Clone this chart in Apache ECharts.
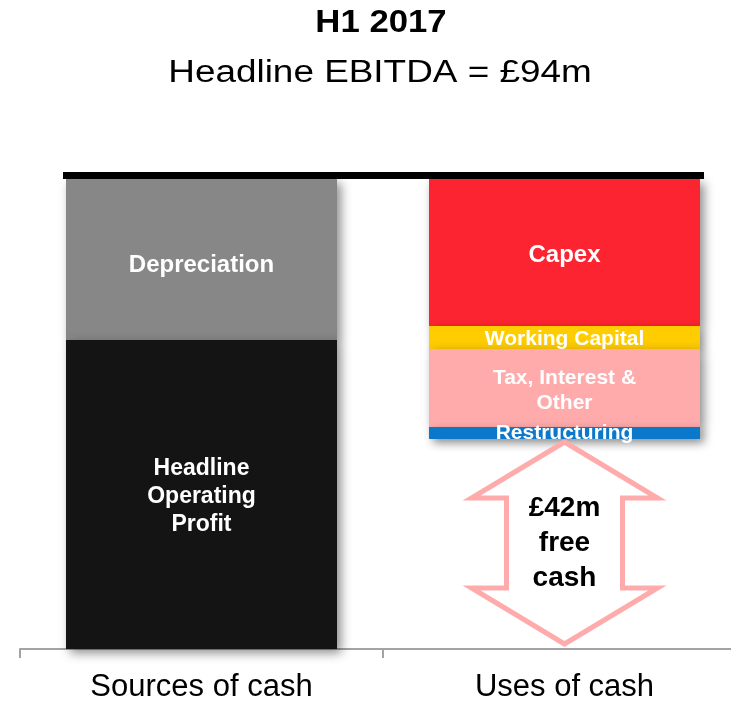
<!DOCTYPE html>
<html>
<head>
<meta charset="utf-8">
<title>H1 2017 cash</title>
<script src="https://cdn.jsdelivr.net/npm/echarts@6/dist/echarts.min.js"></script>
<style>
  html, body { margin: 0; padding: 0; background: #fff; }
  #main { width: 731px; height: 702px; }
</style>
</head>
<body>
<div id="main"></div>
<script>
// data, £m (scale set by EBITDA = 94)
var categories = ["Sources of cash", "Uses of cash"];
var ebitda = 94;
var sourceNames = ["Depreciation", "Headline Operating Profit"];
var sourceLabels = ["Depreciation", "Headline\nOperating\nProfit"];
var sourceValues = [32.2, 61.8];
var useNames = ["Capex", "Working Capital", "Tax, Interest & Other", "Restructuring"];
var useLabels = ["Capex", "Working Capital", "Tax, Interest &\nOther", "Restructuring"];
var useValues = [29.4, 4.6, 15.6, 2.4];
var freeCash = 42;
var freeCashLabel = "£42m\nfree\ncash";
var titleLines = ["H1 2017", "Headline EBITDA = £94m"];

var font = "Liberation Sans, Arial, sans-serif";
var sourceColors = ["#878787", "#141414"];
var useColors = ["#fb2430", "#ffcc00", "#ffabab", "#0b78cb"];
var sourceLabelSize = [24, 23];
var useLabelSize = [24, 21, 21, 21];
var sourceLabelOffset = [[0, 6], [0, 2]];
var useLabelOffset = [[0, 3], [0, 2], [0, 3], [0, 0]];
var BAR_W = 271;

var myChart = echarts.init(document.getElementById("main"));

function barSeries(name, value, catIndex, color, text, size, offset) {
  var data = categories.map(function (c, i) { return i === catIndex ? value : "-"; });
  return {
    name: name,
    type: "bar",
    stack: "cash",
    barWidth: BAR_W,
    data: data,
    itemStyle: {
      color: color,
      shadowBlur: 10,
      shadowOffsetX: 4,
      shadowOffsetY: 4,
      shadowColor: "rgba(0,0,0,0.45)"
    },
    label: {
      show: true,
      position: "inside",
      formatter: text,
      color: "#fff",
      fontWeight: "bold",
      fontSize: size,
      fontFamily: font,
      lineHeight: Math.round(size * 1.2),
      textBorderWidth: 0,
      offset: offset
    }
  };
}

var series = [];
// y axis is inverted, so the first series in the stack sits at the top
sourceNames.forEach(function (n, i) {
  series.push(barSeries(n, sourceValues[i], 0, sourceColors[i], sourceLabels[i], sourceLabelSize[i], sourceLabelOffset[i]));
});
useNames.forEach(function (n, i) {
  series.push(barSeries(n, useValues[i], 1, useColors[i], useLabels[i], useLabelSize[i], useLabelOffset[i]));
});

// black EBITDA line across the top of both bars
series.push({
  type: "custom",
  silent: true,
  z: 5,
  data: [[0, 0]],
  renderItem: function (params, api) {
    var a = api.coord([0, 0]);
    var b = api.coord([1, 0]);
    var half = BAR_W / 2;
    return {
      type: "rect",
      shape: { x: a[0] - half - 3, y: a[1] - 7, width: b[0] - a[0] + 2 * half + 7, height: 7 },
      style: { fill: "#000" }
    };
  }
});

// double arrow for free cash
series.push({
  type: "custom",
  silent: true,
  z: 4,
  data: [[1, ebitda - freeCash, ebitda]],
  renderItem: function (params, api) {
    var top = api.coord([api.value(0), api.value(1)]);
    var bot = api.coord([api.value(0), api.value(2)]);
    var cx = top[0];
    var y0 = top[1] + 3, y1 = bot[1] - 5;
    var hw = 93, sw = 58, hh = 56;
    var pts = [
      [cx, y0], [cx + hw, y0 + hh], [cx + sw, y0 + hh], [cx + sw, y1 - hh],
      [cx + hw, y1 - hh], [cx, y1], [cx - hw, y1 - hh], [cx - sw, y1 - hh],
      [cx - sw, y0 + hh], [cx - hw, y0 + hh]
    ];
    return {
      type: "group",
      children: [
        {
          type: "polygon",
          shape: { points: pts },
          style: { fill: "#fff", stroke: "#ffabab", lineWidth: 5, lineJoin: "miter" }
        },
        {
          type: "text",
          x: cx,
          y: (y0 + y1) / 2,
          style: {
            text: freeCashLabel,
            fill: "#000",
            fontWeight: "bold",
            fontSize: 28,
            fontFamily: font,
            lineHeight: 35,
            align: "center",
            verticalAlign: "middle"
          }
        }
      ]
    };
  }
});

var option = {
  animation: false,
  graphic: [
    {
      type: "text", x: 381, y: 23, scaleX: 1.12,
      style: { text: titleLines[0], fill: "#000", fontWeight: "bold", fontSize: 31, fontFamily: font, align: "center", verticalAlign: "middle" }
    },
    {
      type: "text", x: 380, y: 73, scaleX: 1.19,
      style: { text: titleLines[1], fill: "#000", fontSize: 31, fontFamily: font, align: "center", verticalAlign: "middle" }
    }
  ],
  grid: { left: 20, top: 179, width: 726, height: 470, outerBoundsMode: "none" },
  xAxis: {
    type: "category",
    data: categories,
    axisLine: { onZero: false, lineStyle: { color: "#a3a3a3", width: 2 } },
    axisTick: { show: true, length: 9, lineStyle: { color: "#a3a3a3", width: 2 } },
    axisLabel: { color: "#000", fontSize: 31, fontFamily: font, margin: 23 },
    splitLine: { show: false }
  },
  yAxis: {
    type: "value",
    min: 0,
    max: ebitda,
    inverse: true,
    show: false
  },
  series: series
};
myChart.setOption(option);
window.onresize = function () {
  myChart.resize();
};
</script>
</body>
</html>
